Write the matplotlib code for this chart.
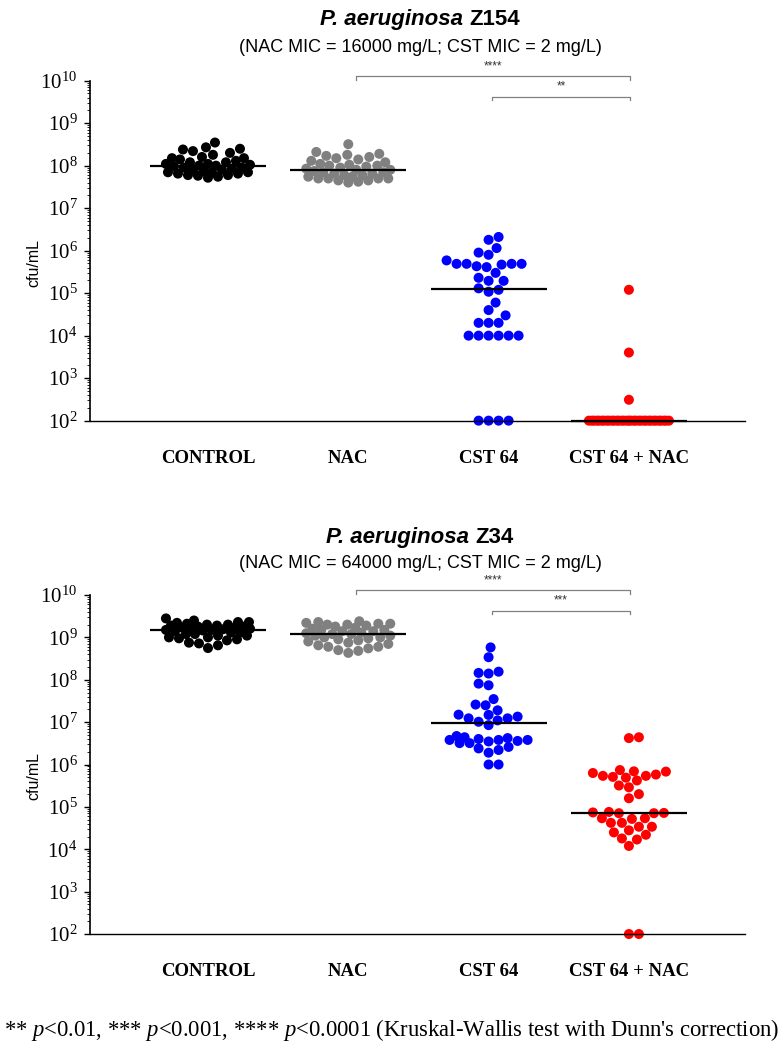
import numpy as np
import matplotlib
matplotlib.use('Agg')
import matplotlib.pyplot as plt
from matplotlib.ticker import LogLocator, NullFormatter, LogFormatterMathtext

plt.rcParams['font.family'] = 'Liberation Serif'
plt.rcParams['mathtext.fontset'] = 'custom'
plt.rcParams['mathtext.rm'] = 'Liberation Serif'
plt.rcParams['mathtext.it'] = 'Liberation Serif:italic'

groups = ['CONTROL', 'NAC', 'CST 64', 'CST 64 + NAC']
colors = ['black', '#808080', '#0000ff', '#ff0000']

# Z154 (cfu/mL)
z154_control = [3.5e8, 2.7e8, 2.5e8, 2.4e8, 2.2e8, 2.0e8, 1.8e8, 1.6e8, 1.5e8, 1.5e8,
                1.4e8, 1.3e8, 1.2e8, 1.2e8, 1.1e8, 1.1e8, 1.05e8, 1.0e8, 1.0e8, 9.5e7,
                9e7, 9e7, 8.5e7, 8e7, 8e7, 7.5e7, 7e7, 7e7, 7e7, 6.5e7,
                6.5e7, 6e7, 6e7, 5.8e7, 5.5e7, 5.2e7]
z154_nac = [3.2e8, 2.1e8, 1.9e8, 1.8e8, 1.7e8, 1.6e8, 1.5e8, 1.4e8, 1.3e8, 1.2e8,
            1.1e8, 1.05e8, 1e8, 1e8, 9.5e7, 9e7, 8.5e7, 8e7, 8e7, 7.5e7,
            7e7, 7e7, 6.5e7, 6.5e7, 6e7, 6e7, 5.5e7, 5.5e7, 5e7, 5e7,
            5e7, 5e7, 4.5e7, 4.5e7, 4.2e7, 4e7]
z154_cst = [2.1e6, 1.8e6, 1.15e6, 9e5, 8e5, 4.3e5, 4.9e5, 4.9e5, 4.1e5, 4.7e5,
            4.9e5, 4.9e5, 5.9e5, 3e5, 1.95e5, 1.95e5, 2.3e5, 1.2e5, 1.08e5, 1.3e5,
            6e4, 3e4, 4e4, 2e4, 2e4, 2e4, 1e4, 1e4, 1e4, 1e4,
            1e4, 1e4, 1e2, 1e2, 1e2, 1e2]
z154_cst_nac = [1.2e5, 4e3, 3.1e2] + [1e2] * 33

# Z34 (cfu/mL)
z34_control = [2.8e9, 2.5e9, 2.3e9, 2.3e9, 2.2e9, 2.1e9, 2.0e9, 2.0e9, 1.9e9, 1.9e9,
               1.8e9, 1.8e9, 1.7e9, 1.7e9, 1.6e9, 1.6e9, 1.55e9, 1.5e9, 1.5e9, 1.45e9,
               1.4e9, 1.3e9, 1.3e9, 1.2e9, 1.2e9, 1.1e9, 1.1e9, 1.0e9, 1.0e9, 9.5e8,
               9e8, 8.5e8, 7.5e8, 7.2e8, 6.5e8, 5.6e8]
z34_nac = [2.4e9, 2.3e9, 2.2e9, 2.1e9, 2.1e9, 2.0e9, 2.0e9, 1.9e9, 1.8e9, 1.7e9,
           1.6e9, 1.5e9, 1.5e9, 1.4e9, 1.4e9, 1.3e9, 1.25e9, 1.2e9, 1.2e9, 1.1e9,
           1.1e9, 1.0e9, 1.0e9, 9.5e8, 9e8, 8.5e8, 8e8, 7.5e8, 7e8, 6.5e8,
           6e8, 6e8, 5.5e8, 5e8, 4.8e8, 4.3e8]
z34_cst = [5.8e8, 3.4e8, 1.45e8, 1.55e8, 1.4e8, 7.4e7, 8.1e7, 3.5e7, 2.5e7, 2.6e7,
           1.9e7, 1.5e7, 1.23e7, 1.48e7, 1.35e7, 1.02e7, 1.23e7, 1.1e7, 8.5e6, 4.7e6,
           4.4e6, 3.8e6, 3.8e6, 3.2e6, 3.6e6, 3.5e6, 4.2e6, 3.8e6, 3.2e6, 4e6,
           2.6e6, 2.4e6, 2.2e6, 1.9e6, 1e6, 1e6]
z34_cst_nac = [4.2e6, 4.4e6, 5.1e5, 6.9e5, 5.8e5, 7.4e5, 4.2e5, 4.9e5, 3.2e5, 2.9e5,
               6.8e5, 5.4e5, 5.4e5, 6.3e5, 2e5, 1.6e5, 7.4e4, 7.1e4, 7.1e4, 7.6e4,
               7.2e4, 5.4e4, 4.2e4, 5.4e4, 4.2e4, 5.2e4, 3.4e4, 3.4e4, 2.2e4, 2.5e4,
               2.8e4, 1.8e4, 1.7e4, 1.2e4, 1e2, 1e2]

z154_stars = [(1.055, 3.008, '****'), (2.024, 3.008, '**')]
z34_stars = [(1.055, 3.008, '****'), (2.024, 3.008, '***')]


def swarm_x(ax, xc, vals, diam=10.0, maxoff=42.0):
    # simple beeswarm in pixel space, points overlap when the width is full
    vals = np.asarray(vals, float)
    pix = ax.transData.transform(np.column_stack([np.full(len(vals), xc), vals]))
    x0 = pix[0, 0]
    ys = pix[:, 1]
    steps = np.arange(1.0, maxoff + 0.01, 1.0)
    cands = np.concatenate([[0.0], np.ravel(np.column_stack([-steps, steps]))])
    px, py = [], []
    out = np.zeros(len(vals))
    for n, k in enumerate(np.argsort(ys, kind='stable')):
        c = 0.0
        if px:
            cc = cands if n % 2 == 0 else -cands
            d = np.min(np.hypot(cc[:, None] - np.array(px)[None, :],
                                ys[k] - np.array(py)[None, :]), axis=1)
            ok = np.nonzero(d >= diam)[0]
            c = cc[ok[0]] if len(ok) else cc[np.argmax(d)]
        px.append(c)
        py.append(ys[k])
        out[k] = c
    return ax.transData.inverted().transform(np.column_stack([x0 + out, ys]))[:, 0]


def draw_panel(ax, data, stars):
    ax.set_yscale('log')
    ax.set_ylim(1e2, 1e10)
    ax.set_xlim(-0.841, 3.827)
    for i, vals in enumerate(data):
        xs = swarm_x(ax, i, vals)
        ax.scatter(xs, vals, s=52, color=colors[i], edgecolors='none', zorder=2, clip_on=False)
        m = np.median(vals)
        ax.plot([i - 0.414, i + 0.414], [m, m], color='black', lw=1.6, zorder=3,
                solid_capstyle='butt', clip_on=False)

    for sp in ['top', 'right']:
        ax.spines[sp].set_visible(False)
    ax.spines['left'].set_linewidth(1.2)
    ax.spines['bottom'].set_linewidth(1.0)

    ax.yaxis.set_major_locator(LogLocator(base=10, numticks=20))
    ax.yaxis.set_major_formatter(LogFormatterMathtext())
    ax.yaxis.set_minor_locator(LogLocator(base=10, subs=np.arange(2, 10), numticks=100))
    ax.yaxis.set_minor_formatter(NullFormatter())
    ax.tick_params(axis='y', which='major', length=4, width=1, labelsize=15, pad=5)
    ax.tick_params(axis='y', which='minor', length=2, width=0.6)

    ax.set_xticks(range(len(groups)))
    ax.set_xticklabels(groups, fontweight='bold', fontsize=13.5)
    ax.tick_params(axis='x', length=0, pad=21)

    ax.text(-0.085, 0.465, 'cfu/mL', transform=ax.transAxes, rotation=90,
            ha='center', va='center', fontsize=11.5, family='Liberation Sans')

    tr = ax.get_xaxis_transform()
    levels = [(1.014, 1.002, 1.043), (0.953, 0.943, 0.984)]
    for (x1, x2, s), (yl, yt, ys) in zip(stars, levels):
        ax.plot([x1, x1, x2, x2], [yt, yl, yl, yt], color='#808080', lw=0.9,
                transform=tr, clip_on=False)
        ax.text((x1 + x2) / 2, ys, s, transform=tr, ha='center', va='center',
                fontsize=8.5, family='Liberation Sans', color='#333333')


def title(fig, y, italic_part, rest, size):
    r = fig.canvas.get_renderer()
    t1 = fig.text(0, y, italic_part, fontsize=size, fontweight='bold', fontstyle='italic',
                  family='Liberation Sans', va='center', ha='left')
    t2 = fig.text(0, y, rest, fontsize=size, fontweight='bold',
                  family='Liberation Sans', va='center', ha='left')
    w1 = t1.get_window_extent(r).width
    w2 = t2.get_window_extent(r).width
    gap = 0.28 * size * fig.dpi / 72
    W = fig.bbox.width
    x0 = 420 - (w1 + gap + w2) / 2
    t1.set_x(x0 / W)
    t2.set_x((x0 + w1 + gap) / W)


fig = plt.figure(figsize=(7.83, 10.49), dpi=100)
ax1 = fig.add_axes([0.1149, 0.5990, 0.8365, 0.3241])
ax2 = fig.add_axes([0.1149, 0.1096, 0.8365, 0.3232])

draw_panel(ax1, [z154_control, z154_nac, z154_cst, z154_cst_nac], z154_stars)
draw_panel(ax2, [z34_control, z34_nac, z34_cst, z34_cst_nac], z34_stars)

title(fig, 0.981, 'P. aeruginosa', 'Z154', 16)
fig.text(420 / 783, 0.955, '(NAC MIC = 16000 mg/L; CST MIC = 2 mg/L)', ha='center', va='center',
         fontsize=13, family='Liberation Sans')
title(fig, 0.488, 'P. aeruginosa', 'Z34', 16)
fig.text(420 / 783, 0.463, '(NAC MIC = 64000 mg/L; CST MIC = 2 mg/L)', ha='center', va='center',
         fontsize=13, family='Liberation Sans')

fig.text(0.5, 0.018, r"** $p$<0.01, *** $p$<0.001, **** $p$<0.0001 (Kruskal-Wallis test with Dunn's correction)",
         ha='center', va='center', fontsize=16.3)

fig.savefig('out.png', dpi=100)
